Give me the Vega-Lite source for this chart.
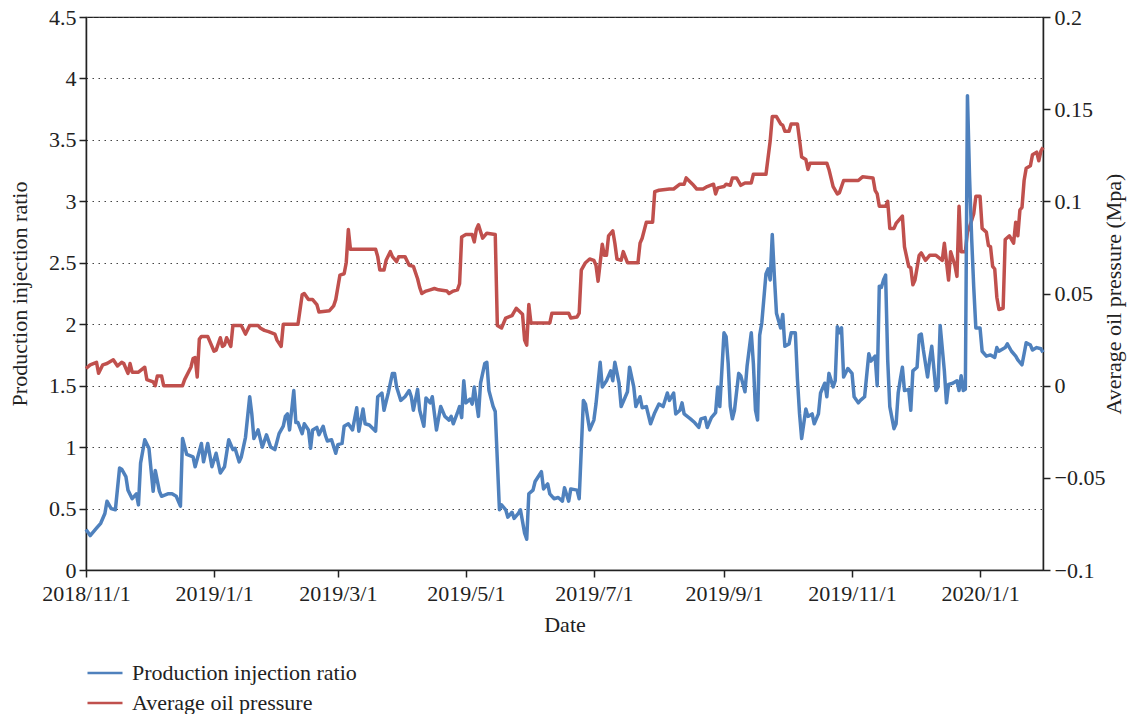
{
  "$schema": "https://vega.github.io/schema/vega-lite/v6.json",
  "width": 957,
  "height": 553,
  "autosize": {"type": "none"},
  "padding": {"left": 86, "top": 17, "right": 86, "bottom": 144},
  "background": "white",
  "config": {
    "font": "Liberation Serif",
    "view": {"stroke": "#222", "strokeWidth": 1.2},
    "axis": {
      "labelFont": "Liberation Serif",
      "titleFont": "Liberation Serif",
      "labelFontSize": 22,
      "titleFontSize": 22,
      "titleFontWeight": "normal",
      "labelColor": "#222",
      "titleColor": "#222",
      "domainColor": "#222",
      "tickColor": "#222",
      "domainWidth": 1.5,
      "tickWidth": 1.5,
      "tickSize": 7,
      "labelFlush": false,
      "labelOverlap": false
    },
    "legend": {
      "labelFont": "Liberation Serif",
      "labelFontSize": 22,
      "labelColor": "#222",
      "labelLimit": 500
    }
  },
  "datasets": {
    "ratio": [
      {"date": "2018-11-01", "value": 0.33}, {"date": "2018-11-03", "value": 0.28}, {"date": "2018-11-06", "value": 0.34},
      {"date": "2018-11-08", "value": 0.38}, {"date": "2018-11-10", "value": 0.46}, {"date": "2018-11-11", "value": 0.56},
      {"date": "2018-11-13", "value": 0.50}, {"date": "2018-11-15", "value": 0.49}, {"date": "2018-11-17", "value": 0.83},
      {"date": "2018-11-18", "value": 0.82}, {"date": "2018-11-20", "value": 0.76}, {"date": "2018-11-21", "value": 0.65},
      {"date": "2018-11-23", "value": 0.58}, {"date": "2018-11-25", "value": 0.62}, {"date": "2018-11-26", "value": 0.53},
      {"date": "2018-11-27", "value": 0.87}, {"date": "2018-11-29", "value": 1.06}, {"date": "2018-12-01", "value": 0.99},
      {"date": "2018-12-03", "value": 0.64}, {"date": "2018-12-04", "value": 0.81}, {"date": "2018-12-06", "value": 0.64},
      {"date": "2018-12-07", "value": 0.60}, {"date": "2018-12-10", "value": 0.62}, {"date": "2018-12-12", "value": 0.62},
      {"date": "2018-12-14", "value": 0.60}, {"date": "2018-12-16", "value": 0.52}, {"date": "2018-12-17", "value": 1.07},
      {"date": "2018-12-19", "value": 0.94}, {"date": "2018-12-22", "value": 0.92}, {"date": "2018-12-23", "value": 0.84},
      {"date": "2018-12-26", "value": 1.03}, {"date": "2018-12-27", "value": 0.88}, {"date": "2018-12-29", "value": 1.03},
      {"date": "2018-12-31", "value": 0.84}, {"date": "2019-01-02", "value": 0.95}, {"date": "2019-01-04", "value": 0.79},
      {"date": "2019-01-06", "value": 0.84}, {"date": "2019-01-08", "value": 1.06}, {"date": "2019-01-10", "value": 0.98},
      {"date": "2019-01-11", "value": 0.99}, {"date": "2019-01-13", "value": 0.88}, {"date": "2019-01-14", "value": 0.92},
      {"date": "2019-01-16", "value": 1.08}, {"date": "2019-01-18", "value": 1.41}, {"date": "2019-01-19", "value": 1.27},
      {"date": "2019-01-20", "value": 1.07}, {"date": "2019-01-22", "value": 1.14}, {"date": "2019-01-24", "value": 1.00},
      {"date": "2019-01-26", "value": 1.10}, {"date": "2019-01-28", "value": 1.00}, {"date": "2019-01-30", "value": 0.98},
      {"date": "2019-02-01", "value": 1.11}, {"date": "2019-02-03", "value": 1.17}, {"date": "2019-02-04", "value": 1.25},
      {"date": "2019-02-05", "value": 1.27}, {"date": "2019-02-06", "value": 1.14}, {"date": "2019-02-08", "value": 1.46},
      {"date": "2019-02-09", "value": 1.20}, {"date": "2019-02-10", "value": 1.20}, {"date": "2019-02-12", "value": 1.11},
      {"date": "2019-02-13", "value": 1.19}, {"date": "2019-02-15", "value": 1.14}, {"date": "2019-02-16", "value": 0.99},
      {"date": "2019-02-17", "value": 1.14}, {"date": "2019-02-19", "value": 1.16}, {"date": "2019-02-20", "value": 1.10},
      {"date": "2019-02-22", "value": 1.17}, {"date": "2019-02-23", "value": 1.10}, {"date": "2019-02-24", "value": 1.05},
      {"date": "2019-02-26", "value": 1.06}, {"date": "2019-02-28", "value": 0.95}, {"date": "2019-03-01", "value": 1.02},
      {"date": "2019-03-03", "value": 1.03}, {"date": "2019-03-04", "value": 1.17}, {"date": "2019-03-06", "value": 1.19},
      {"date": "2019-03-08", "value": 1.14}, {"date": "2019-03-10", "value": 1.32}, {"date": "2019-03-11", "value": 1.13},
      {"date": "2019-03-13", "value": 1.31}, {"date": "2019-03-14", "value": 1.19}, {"date": "2019-03-16", "value": 1.18},
      {"date": "2019-03-19", "value": 1.13}, {"date": "2019-03-20", "value": 1.41}, {"date": "2019-03-22", "value": 1.44},
      {"date": "2019-03-23", "value": 1.30}, {"date": "2019-03-25", "value": 1.44}, {"date": "2019-03-27", "value": 1.60},
      {"date": "2019-03-28", "value": 1.60}, {"date": "2019-03-29", "value": 1.49}, {"date": "2019-03-31", "value": 1.38},
      {"date": "2019-04-02", "value": 1.41}, {"date": "2019-04-04", "value": 1.46}, {"date": "2019-04-05", "value": 1.41},
      {"date": "2019-04-06", "value": 1.30}, {"date": "2019-04-08", "value": 1.47}, {"date": "2019-04-09", "value": 1.30},
      {"date": "2019-04-11", "value": 1.17}, {"date": "2019-04-12", "value": 1.40}, {"date": "2019-04-14", "value": 1.36},
      {"date": "2019-04-15", "value": 1.41}, {"date": "2019-04-17", "value": 1.14}, {"date": "2019-04-19", "value": 1.33},
      {"date": "2019-04-21", "value": 1.25}, {"date": "2019-04-23", "value": 1.22}, {"date": "2019-04-24", "value": 1.25},
      {"date": "2019-04-25", "value": 1.19}, {"date": "2019-04-27", "value": 1.28}, {"date": "2019-04-28", "value": 1.33},
      {"date": "2019-04-29", "value": 1.24}, {"date": "2019-04-30", "value": 1.54}, {"date": "2019-05-01", "value": 1.36},
      {"date": "2019-05-03", "value": 1.39}, {"date": "2019-05-04", "value": 1.35}, {"date": "2019-05-05", "value": 1.49},
      {"date": "2019-05-07", "value": 1.25}, {"date": "2019-05-08", "value": 1.52}, {"date": "2019-05-10", "value": 1.68},
      {"date": "2019-05-11", "value": 1.69}, {"date": "2019-05-12", "value": 1.46}, {"date": "2019-05-14", "value": 1.33},
      {"date": "2019-05-15", "value": 1.29}, {"date": "2019-05-17", "value": 0.49}, {"date": "2019-05-18", "value": 0.53},
      {"date": "2019-05-20", "value": 0.49}, {"date": "2019-05-21", "value": 0.43}, {"date": "2019-05-23", "value": 0.47},
      {"date": "2019-05-24", "value": 0.42}, {"date": "2019-05-26", "value": 0.46}, {"date": "2019-05-27", "value": 0.49},
      {"date": "2019-05-29", "value": 0.30}, {"date": "2019-05-30", "value": 0.25}, {"date": "2019-05-31", "value": 0.62},
      {"date": "2019-06-02", "value": 0.65}, {"date": "2019-06-03", "value": 0.72}, {"date": "2019-06-06", "value": 0.80},
      {"date": "2019-06-07", "value": 0.66}, {"date": "2019-06-09", "value": 0.70}, {"date": "2019-06-10", "value": 0.62},
      {"date": "2019-06-12", "value": 0.58}, {"date": "2019-06-14", "value": 0.59}, {"date": "2019-06-16", "value": 0.56},
      {"date": "2019-06-17", "value": 0.67}, {"date": "2019-06-19", "value": 0.56}, {"date": "2019-06-20", "value": 0.66},
      {"date": "2019-06-23", "value": 0.65}, {"date": "2019-06-24", "value": 0.58}, {"date": "2019-06-26", "value": 1.38},
      {"date": "2019-06-27", "value": 1.35}, {"date": "2019-06-29", "value": 1.14}, {"date": "2019-07-01", "value": 1.22},
      {"date": "2019-07-02", "value": 1.35}, {"date": "2019-07-04", "value": 1.69}, {"date": "2019-07-05", "value": 1.49},
      {"date": "2019-07-07", "value": 1.54}, {"date": "2019-07-09", "value": 1.62}, {"date": "2019-07-10", "value": 1.54},
      {"date": "2019-07-11", "value": 1.69}, {"date": "2019-07-13", "value": 1.52}, {"date": "2019-07-14", "value": 1.33},
      {"date": "2019-07-16", "value": 1.41}, {"date": "2019-07-17", "value": 1.45}, {"date": "2019-07-18", "value": 1.65},
      {"date": "2019-07-20", "value": 1.49}, {"date": "2019-07-21", "value": 1.33}, {"date": "2019-07-23", "value": 1.41},
      {"date": "2019-07-24", "value": 1.32}, {"date": "2019-07-26", "value": 1.33}, {"date": "2019-07-28", "value": 1.19},
      {"date": "2019-07-30", "value": 1.28}, {"date": "2019-08-01", "value": 1.35}, {"date": "2019-08-03", "value": 1.33},
      {"date": "2019-08-05", "value": 1.44}, {"date": "2019-08-06", "value": 1.38}, {"date": "2019-08-08", "value": 1.44},
      {"date": "2019-08-09", "value": 1.27}, {"date": "2019-08-11", "value": 1.30}, {"date": "2019-08-12", "value": 1.36},
      {"date": "2019-08-13", "value": 1.27}, {"date": "2019-08-16", "value": 1.23}, {"date": "2019-08-18", "value": 1.20},
      {"date": "2019-08-20", "value": 1.16}, {"date": "2019-08-21", "value": 1.23}, {"date": "2019-08-23", "value": 1.24},
      {"date": "2019-08-24", "value": 1.16}, {"date": "2019-08-26", "value": 1.24}, {"date": "2019-08-28", "value": 1.28},
      {"date": "2019-08-29", "value": 1.49}, {"date": "2019-08-30", "value": 1.33}, {"date": "2019-09-01", "value": 1.93},
      {"date": "2019-09-02", "value": 1.90}, {"date": "2019-09-03", "value": 1.68}, {"date": "2019-09-04", "value": 1.33},
      {"date": "2019-09-05", "value": 1.23}, {"date": "2019-09-06", "value": 1.30}, {"date": "2019-09-08", "value": 1.60},
      {"date": "2019-09-09", "value": 1.58}, {"date": "2019-09-11", "value": 1.45}, {"date": "2019-09-12", "value": 1.66},
      {"date": "2019-09-14", "value": 1.93}, {"date": "2019-09-15", "value": 1.68}, {"date": "2019-09-16", "value": 1.30},
      {"date": "2019-09-17", "value": 1.22}, {"date": "2019-09-18", "value": 1.91}, {"date": "2019-09-19", "value": 2.01},
      {"date": "2019-09-21", "value": 2.41}, {"date": "2019-09-22", "value": 2.45}, {"date": "2019-09-23", "value": 2.36},
      {"date": "2019-09-24", "value": 2.73}, {"date": "2019-09-25", "value": 2.39}, {"date": "2019-09-26", "value": 2.09},
      {"date": "2019-09-28", "value": 1.97}, {"date": "2019-09-29", "value": 2.08}, {"date": "2019-09-30", "value": 1.82},
      {"date": "2019-10-02", "value": 1.84}, {"date": "2019-10-03", "value": 1.93}, {"date": "2019-10-05", "value": 1.93},
      {"date": "2019-10-06", "value": 1.55}, {"date": "2019-10-07", "value": 1.27}, {"date": "2019-10-08", "value": 1.07},
      {"date": "2019-10-10", "value": 1.31}, {"date": "2019-10-11", "value": 1.25}, {"date": "2019-10-13", "value": 1.27},
      {"date": "2019-10-14", "value": 1.19}, {"date": "2019-10-16", "value": 1.27}, {"date": "2019-10-17", "value": 1.44},
      {"date": "2019-10-19", "value": 1.52}, {"date": "2019-10-20", "value": 1.41}, {"date": "2019-10-21", "value": 1.60},
      {"date": "2019-10-23", "value": 1.49}, {"date": "2019-10-24", "value": 1.54}, {"date": "2019-10-25", "value": 1.98},
      {"date": "2019-10-26", "value": 1.93}, {"date": "2019-10-27", "value": 1.97}, {"date": "2019-10-28", "value": 1.57},
      {"date": "2019-10-30", "value": 1.64}, {"date": "2019-11-01", "value": 1.60}, {"date": "2019-11-02", "value": 1.41},
      {"date": "2019-11-04", "value": 1.36}, {"date": "2019-11-05", "value": 1.38}, {"date": "2019-11-07", "value": 1.41},
      {"date": "2019-11-09", "value": 1.76}, {"date": "2019-11-10", "value": 1.70}, {"date": "2019-11-12", "value": 1.74},
      {"date": "2019-11-13", "value": 1.50}, {"date": "2019-11-14", "value": 2.31}, {"date": "2019-11-15", "value": 2.30},
      {"date": "2019-11-16", "value": 2.36}, {"date": "2019-11-17", "value": 2.40}, {"date": "2019-11-18", "value": 1.71},
      {"date": "2019-11-19", "value": 1.33}, {"date": "2019-11-21", "value": 1.15}, {"date": "2019-11-22", "value": 1.19},
      {"date": "2019-11-23", "value": 1.44}, {"date": "2019-11-24", "value": 1.55}, {"date": "2019-11-25", "value": 1.65},
      {"date": "2019-11-26", "value": 1.46}, {"date": "2019-11-28", "value": 1.47}, {"date": "2019-11-29", "value": 1.30},
      {"date": "2019-11-30", "value": 1.62}, {"date": "2019-12-02", "value": 1.65}, {"date": "2019-12-03", "value": 1.91},
      {"date": "2019-12-04", "value": 1.92}, {"date": "2019-12-05", "value": 1.79}, {"date": "2019-12-07", "value": 1.57},
      {"date": "2019-12-08", "value": 1.71}, {"date": "2019-12-09", "value": 1.82}, {"date": "2019-12-11", "value": 1.46},
      {"date": "2019-12-12", "value": 1.49}, {"date": "2019-12-13", "value": 1.99}, {"date": "2019-12-15", "value": 1.62},
      {"date": "2019-12-16", "value": 1.36}, {"date": "2019-12-17", "value": 1.51}, {"date": "2019-12-19", "value": 1.52},
      {"date": "2019-12-21", "value": 1.54}, {"date": "2019-12-22", "value": 1.46}, {"date": "2019-12-23", "value": 1.58},
      {"date": "2019-12-24", "value": 1.46}, {"date": "2019-12-25", "value": 1.47}, {"date": "2019-12-26", "value": 3.86},
      {"date": "2019-12-27", "value": 3.20}, {"date": "2019-12-28", "value": 2.70}, {"date": "2019-12-29", "value": 2.30},
      {"date": "2019-12-30", "value": 1.97}, {"date": "2020-01-01", "value": 1.97}, {"date": "2020-01-02", "value": 1.78},
      {"date": "2020-01-04", "value": 1.74}, {"date": "2020-01-06", "value": 1.75}, {"date": "2020-01-08", "value": 1.73},
      {"date": "2020-01-09", "value": 1.81}, {"date": "2020-01-10", "value": 1.78}, {"date": "2020-01-13", "value": 1.81},
      {"date": "2020-01-14", "value": 1.84}, {"date": "2020-01-16", "value": 1.78}, {"date": "2020-01-18", "value": 1.74},
      {"date": "2020-01-19", "value": 1.71}, {"date": "2020-01-21", "value": 1.67}, {"date": "2020-01-22", "value": 1.76},
      {"date": "2020-01-23", "value": 1.85}, {"date": "2020-01-25", "value": 1.83}, {"date": "2020-01-26", "value": 1.79},
      {"date": "2020-01-28", "value": 1.81}, {"date": "2020-01-30", "value": 1.80}, {"date": "2020-01-31", "value": 1.77}
    ],
    "pressure": [
      {"date": "2018-11-01", "value": 0.0093}, {"date": "2018-11-03", "value": 0.0113}, {"date": "2018-11-06", "value": 0.0127},
      {"date": "2018-11-07", "value": 0.0067}, {"date": "2018-11-09", "value": 0.0113}, {"date": "2018-11-11", "value": 0.0120},
      {"date": "2018-11-14", "value": 0.0140}, {"date": "2018-11-16", "value": 0.0107}, {"date": "2018-11-18", "value": 0.0127},
      {"date": "2018-11-19", "value": 0.0120}, {"date": "2018-11-21", "value": 0.0067}, {"date": "2018-11-22", "value": 0.0120},
      {"date": "2018-11-23", "value": 0.0073}, {"date": "2018-11-26", "value": 0.0073}, {"date": "2018-11-29", "value": 0.0100},
      {"date": "2018-11-30", "value": 0.0033}, {"date": "2018-12-03", "value": 0.0020}, {"date": "2018-12-04", "value": 0.0000},
      {"date": "2018-12-05", "value": 0.0053}, {"date": "2018-12-07", "value": 0.0053}, {"date": "2018-12-08", "value": 0.0000},
      {"date": "2018-12-17", "value": 0.0000}, {"date": "2018-12-18", "value": 0.0033}, {"date": "2018-12-21", "value": 0.0100},
      {"date": "2018-12-22", "value": 0.0147}, {"date": "2018-12-23", "value": 0.0153}, {"date": "2018-12-24", "value": 0.0047},
      {"date": "2018-12-25", "value": 0.0253}, {"date": "2018-12-26", "value": 0.0267}, {"date": "2018-12-29", "value": 0.0267},
      {"date": "2018-12-30", "value": 0.0240}, {"date": "2019-01-01", "value": 0.0187}, {"date": "2019-01-02", "value": 0.0193},
      {"date": "2019-01-04", "value": 0.0260}, {"date": "2019-01-05", "value": 0.0213}, {"date": "2019-01-06", "value": 0.0220},
      {"date": "2019-01-07", "value": 0.0260}, {"date": "2019-01-09", "value": 0.0213}, {"date": "2019-01-10", "value": 0.0327},
      {"date": "2019-01-12", "value": 0.0327}, {"date": "2019-01-14", "value": 0.0327}, {"date": "2019-01-16", "value": 0.0280},
      {"date": "2019-01-18", "value": 0.0327}, {"date": "2019-01-22", "value": 0.0327}, {"date": "2019-01-23", "value": 0.0313},
      {"date": "2019-01-25", "value": 0.0300}, {"date": "2019-01-27", "value": 0.0293}, {"date": "2019-01-30", "value": 0.0280},
      {"date": "2019-01-31", "value": 0.0247}, {"date": "2019-02-02", "value": 0.0213}, {"date": "2019-02-03", "value": 0.0333},
      {"date": "2019-02-05", "value": 0.0333}, {"date": "2019-02-10", "value": 0.0333}, {"date": "2019-02-12", "value": 0.0493},
      {"date": "2019-02-13", "value": 0.0500}, {"date": "2019-02-15", "value": 0.0467}, {"date": "2019-02-17", "value": 0.0467},
      {"date": "2019-02-19", "value": 0.0440}, {"date": "2019-02-20", "value": 0.0400}, {"date": "2019-02-25", "value": 0.0407},
      {"date": "2019-02-27", "value": 0.0433}, {"date": "2019-02-28", "value": 0.0467}, {"date": "2019-03-02", "value": 0.0600},
      {"date": "2019-03-04", "value": 0.0607}, {"date": "2019-03-05", "value": 0.0667}, {"date": "2019-03-06", "value": 0.0847},
      {"date": "2019-03-07", "value": 0.0740}, {"date": "2019-03-19", "value": 0.0740}, {"date": "2019-03-20", "value": 0.0700},
      {"date": "2019-03-21", "value": 0.0627}, {"date": "2019-03-23", "value": 0.0627}, {"date": "2019-03-24", "value": 0.0680},
      {"date": "2019-03-26", "value": 0.0727}, {"date": "2019-03-27", "value": 0.0700}, {"date": "2019-03-29", "value": 0.0673},
      {"date": "2019-03-30", "value": 0.0700}, {"date": "2019-04-02", "value": 0.0700}, {"date": "2019-04-04", "value": 0.0653},
      {"date": "2019-04-06", "value": 0.0647}, {"date": "2019-04-08", "value": 0.0580}, {"date": "2019-04-09", "value": 0.0533},
      {"date": "2019-04-10", "value": 0.0500}, {"date": "2019-04-12", "value": 0.0513}, {"date": "2019-04-14", "value": 0.0520},
      {"date": "2019-04-16", "value": 0.0527}, {"date": "2019-04-18", "value": 0.0520}, {"date": "2019-04-22", "value": 0.0513},
      {"date": "2019-04-23", "value": 0.0500}, {"date": "2019-04-25", "value": 0.0513}, {"date": "2019-04-27", "value": 0.0520},
      {"date": "2019-04-28", "value": 0.0553}, {"date": "2019-04-29", "value": 0.0807}, {"date": "2019-05-01", "value": 0.0820},
      {"date": "2019-05-04", "value": 0.0820}, {"date": "2019-05-05", "value": 0.0780}, {"date": "2019-05-06", "value": 0.0847},
      {"date": "2019-05-07", "value": 0.0873}, {"date": "2019-05-09", "value": 0.0800}, {"date": "2019-05-11", "value": 0.0827},
      {"date": "2019-05-15", "value": 0.0820}, {"date": "2019-05-16", "value": 0.0327}, {"date": "2019-05-18", "value": 0.0313},
      {"date": "2019-05-20", "value": 0.0367}, {"date": "2019-05-23", "value": 0.0380}, {"date": "2019-05-25", "value": 0.0420},
      {"date": "2019-05-28", "value": 0.0387}, {"date": "2019-05-29", "value": 0.0247}, {"date": "2019-05-30", "value": 0.0220},
      {"date": "2019-05-31", "value": 0.0440}, {"date": "2019-06-01", "value": 0.0340}, {"date": "2019-06-10", "value": 0.0340},
      {"date": "2019-06-11", "value": 0.0393}, {"date": "2019-06-19", "value": 0.0393}, {"date": "2019-06-20", "value": 0.0367},
      {"date": "2019-06-23", "value": 0.0373}, {"date": "2019-06-24", "value": 0.0393}, {"date": "2019-06-25", "value": 0.0627},
      {"date": "2019-06-27", "value": 0.0667}, {"date": "2019-06-29", "value": 0.0687}, {"date": "2019-07-01", "value": 0.0680},
      {"date": "2019-07-02", "value": 0.0653}, {"date": "2019-07-03", "value": 0.0567}, {"date": "2019-07-04", "value": 0.0667},
      {"date": "2019-07-05", "value": 0.0767}, {"date": "2019-07-06", "value": 0.0707}, {"date": "2019-07-07", "value": 0.0707},
      {"date": "2019-07-08", "value": 0.0813}, {"date": "2019-07-10", "value": 0.0840}, {"date": "2019-07-11", "value": 0.0773},
      {"date": "2019-07-12", "value": 0.0687}, {"date": "2019-07-14", "value": 0.0680}, {"date": "2019-07-15", "value": 0.0727},
      {"date": "2019-07-17", "value": 0.0667}, {"date": "2019-07-22", "value": 0.0667}, {"date": "2019-07-23", "value": 0.0773},
      {"date": "2019-07-24", "value": 0.0800}, {"date": "2019-07-26", "value": 0.0887}, {"date": "2019-07-29", "value": 0.0887},
      {"date": "2019-07-30", "value": 0.1053}, {"date": "2019-08-01", "value": 0.1060}, {"date": "2019-08-06", "value": 0.1067},
      {"date": "2019-08-08", "value": 0.1067}, {"date": "2019-08-11", "value": 0.1093}, {"date": "2019-08-13", "value": 0.1093},
      {"date": "2019-08-14", "value": 0.1127}, {"date": "2019-08-17", "value": 0.1093}, {"date": "2019-08-19", "value": 0.1067},
      {"date": "2019-08-22", "value": 0.1067}, {"date": "2019-08-24", "value": 0.1080}, {"date": "2019-08-27", "value": 0.1093},
      {"date": "2019-08-28", "value": 0.1040}, {"date": "2019-08-29", "value": 0.1073}, {"date": "2019-09-01", "value": 0.1080},
      {"date": "2019-09-02", "value": 0.1093}, {"date": "2019-09-04", "value": 0.1087}, {"date": "2019-09-05", "value": 0.1127},
      {"date": "2019-09-07", "value": 0.1127}, {"date": "2019-09-09", "value": 0.1087}, {"date": "2019-09-11", "value": 0.1100},
      {"date": "2019-09-14", "value": 0.1100}, {"date": "2019-09-15", "value": 0.1147}, {"date": "2019-09-21", "value": 0.1147},
      {"date": "2019-09-23", "value": 0.1327}, {"date": "2019-09-24", "value": 0.1460}, {"date": "2019-09-26", "value": 0.1460},
      {"date": "2019-09-28", "value": 0.1420}, {"date": "2019-09-29", "value": 0.1413}, {"date": "2019-09-30", "value": 0.1380},
      {"date": "2019-10-02", "value": 0.1380}, {"date": "2019-10-03", "value": 0.1420}, {"date": "2019-10-06", "value": 0.1420},
      {"date": "2019-10-07", "value": 0.1333}, {"date": "2019-10-08", "value": 0.1240}, {"date": "2019-10-10", "value": 0.1227},
      {"date": "2019-10-11", "value": 0.1173}, {"date": "2019-10-12", "value": 0.1207}, {"date": "2019-10-20", "value": 0.1207},
      {"date": "2019-10-21", "value": 0.1173}, {"date": "2019-10-23", "value": 0.1080}, {"date": "2019-10-25", "value": 0.1040},
      {"date": "2019-10-26", "value": 0.1047}, {"date": "2019-10-28", "value": 0.1113}, {"date": "2019-11-04", "value": 0.1113},
      {"date": "2019-11-06", "value": 0.1133}, {"date": "2019-11-11", "value": 0.1127}, {"date": "2019-11-12", "value": 0.1060},
      {"date": "2019-11-13", "value": 0.1040}, {"date": "2019-11-14", "value": 0.0973}, {"date": "2019-11-17", "value": 0.0973},
      {"date": "2019-11-18", "value": 0.1000}, {"date": "2019-11-19", "value": 0.0853}, {"date": "2019-11-21", "value": 0.0853},
      {"date": "2019-11-22", "value": 0.0880}, {"date": "2019-11-25", "value": 0.0920}, {"date": "2019-11-26", "value": 0.0753},
      {"date": "2019-11-28", "value": 0.0647}, {"date": "2019-11-29", "value": 0.0640}, {"date": "2019-11-30", "value": 0.0547},
      {"date": "2019-12-01", "value": 0.0573}, {"date": "2019-12-03", "value": 0.0707}, {"date": "2019-12-04", "value": 0.0720},
      {"date": "2019-12-06", "value": 0.0680}, {"date": "2019-12-08", "value": 0.0707}, {"date": "2019-12-11", "value": 0.0707},
      {"date": "2019-12-14", "value": 0.0680}, {"date": "2019-12-15", "value": 0.0773}, {"date": "2019-12-17", "value": 0.0573},
      {"date": "2019-12-18", "value": 0.0727}, {"date": "2019-12-20", "value": 0.0653}, {"date": "2019-12-21", "value": 0.0593},
      {"date": "2019-12-22", "value": 0.0973}, {"date": "2019-12-23", "value": 0.0727}, {"date": "2019-12-25", "value": 0.0727},
      {"date": "2019-12-26", "value": 0.0833}, {"date": "2019-12-27", "value": 0.0860}, {"date": "2019-12-29", "value": 0.0933},
      {"date": "2019-12-30", "value": 0.1027}, {"date": "2020-01-01", "value": 0.1027}, {"date": "2020-01-02", "value": 0.0853},
      {"date": "2020-01-04", "value": 0.0833}, {"date": "2020-01-05", "value": 0.0760}, {"date": "2020-01-06", "value": 0.0753},
      {"date": "2020-01-07", "value": 0.0647}, {"date": "2020-01-08", "value": 0.0633}, {"date": "2020-01-09", "value": 0.0480},
      {"date": "2020-01-10", "value": 0.0413}, {"date": "2020-01-12", "value": 0.0420}, {"date": "2020-01-13", "value": 0.0793},
      {"date": "2020-01-15", "value": 0.0813}, {"date": "2020-01-17", "value": 0.0773}, {"date": "2020-01-18", "value": 0.0887},
      {"date": "2020-01-19", "value": 0.0813}, {"date": "2020-01-20", "value": 0.0953}, {"date": "2020-01-21", "value": 0.0967},
      {"date": "2020-01-22", "value": 0.1113}, {"date": "2020-01-23", "value": 0.1180}, {"date": "2020-01-25", "value": 0.1193},
      {"date": "2020-01-26", "value": 0.1253}, {"date": "2020-01-28", "value": 0.1267}, {"date": "2020-01-29", "value": 0.1220},
      {"date": "2020-01-30", "value": 0.1273}, {"date": "2020-01-31", "value": 0.1293}
    ]
  },
  "layer": [
    {
      "data": {"name": "pressure"},
      "mark": {"type": "line", "strokeWidth": 3.5, "strokeJoin": "round"},
      "encoding": {
        "x": {
          "field": "date",
          "type": "temporal",
          "scale": {
            "type": "utc",
            "nice": false,
            "domain": [
              {"year": 2018, "month": 11, "date": 1, "utc": true},
              {"year": 2020, "month": 1, "date": 31, "utc": true}
            ]
          },
          "axis": {
            "title": "Date",
            "values": [
              {"year": 2018, "month": 11, "date": 1, "utc": true},
              {"year": 2019, "month": 1, "date": 1, "utc": true},
              {"year": 2019, "month": 3, "date": 1, "utc": true},
              {"year": 2019, "month": 5, "date": 1, "utc": true},
              {"year": 2019, "month": 7, "date": 1, "utc": true},
              {"year": 2019, "month": 9, "date": 1, "utc": true},
              {"year": 2019, "month": 11, "date": 1, "utc": true},
              {"year": 2020, "month": 1, "date": 1, "utc": true}
            ],
            "labelExpr": "utcFormat(datum.value, '%Y/%-m/%-d')",
            "labelPadding": 6,
            "titlePadding": 10,
            "grid": false
          }
        },
        "y": {
          "field": "value",
          "type": "quantitative",
          "scale": {"domain": [-0.1, 0.2], "nice": false, "zero": false},
          "axis": {
            "orient": "right",
            "title": "Average oil pressure (Mpa)",
            "titleAngle": 270,
            "values": [-0.1, -0.05, 0, 0.05, 0.1, 0.15, 0.2],
            "format": "~g",
            "labelPadding": 4,
            "titlePadding": 21,
            "grid": false
          }
        },
        "color": {"datum": "Average oil pressure", "type": "nominal"}
      }
    },
    {
      "data": {"name": "ratio"},
      "mark": {"type": "line", "strokeWidth": 3.5, "strokeJoin": "round"},
      "encoding": {
        "x": {"field": "date", "type": "temporal"},
        "y": {
          "field": "value",
          "type": "quantitative",
          "scale": {"domain": [0, 4.5], "nice": false},
          "axis": {
            "orient": "left",
            "title": "Production injection ratio",
            "values": [0, 0.5, 1, 1.5, 2, 2.5, 3, 3.5, 4, 4.5],
            "format": "~g",
            "labelPadding": 3,
            "titlePadding": 17,
            "grid": true,
            "gridColor": "#444",
            "gridWidth": 1.2,
            "gridDash": [1.5, 4.5]
          }
        },
        "color": {
          "datum": "Production injection ratio",
          "type": "nominal",
          "scale": {
            "domain": ["Production injection ratio", "Average oil pressure"],
            "range": ["#4F81BD", "#C0504D"]
          },
          "legend": {
            "title": null,
            "orient": "none",
            "legendX": 0,
            "legendY": 637,
            "direction": "vertical",
            "symbolType": "stroke",
            "symbolSize": 1225,
            "symbolStrokeWidth": 2.5,
            "labelOffset": 8,
            "rowPadding": -11,
            "padding": 0
          }
        }
      }
    }
  ],
  "resolve": {"scale": {"y": "independent"}}
}
